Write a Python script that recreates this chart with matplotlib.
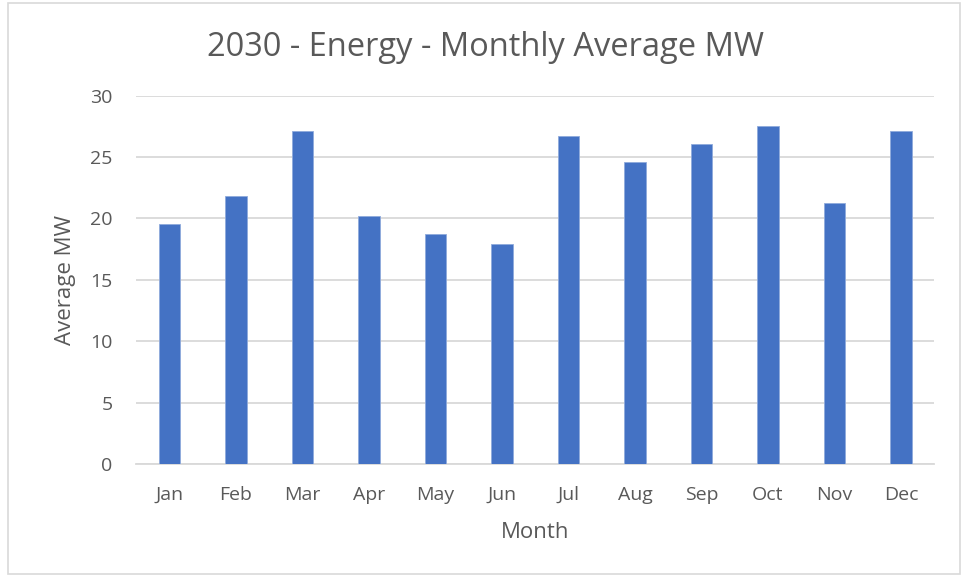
import matplotlib.pyplot as plt
from matplotlib.patches import Rectangle

months = ["Jan", "Feb", "Mar", "Apr", "May", "Jun",
          "Jul", "Aug", "Sep", "Oct", "Nov", "Dec"]
avg_mw = [19.55, 21.8, 27.1, 20.2, 18.75, 17.95,
          26.7, 24.6, 26.05, 27.5, 21.3, 27.1]

plt.rcParams["font.family"] = ["Open Sans", "DejaVu Sans"]
text_color = "#595959"

fig = plt.figure(figsize=(9.66, 5.77), dpi=100)
ax = fig.add_axes([0.141, 0.196, 0.826, 0.638])

x = range(len(months))
ax.bar(x, avg_mw, width=0.32, color="#4472C4", edgecolor="#8faadc",
       linewidth=0.6, zorder=3)

ax.set_xlim(-0.5, len(months) - 0.5)
ax.set_ylim(0, 30)
ax.set_yticks(range(0, 31, 5))
ax.set_xticks(list(x))
ax.set_xticklabels(months)
ax.tick_params(axis="both", length=0, colors=text_color, labelsize=14)
ax.tick_params(axis="x", pad=16)
ax.tick_params(axis="y", pad=17)

ax.grid(axis="y", color="#d9d9d9", linewidth=1.3, zorder=0)
for side in ["top", "right", "left"]:
    ax.spines[side].set_visible(False)
ax.spines["bottom"].set_color("#d9d9d9")
ax.spines["bottom"].set_linewidth(1.3)

ax.set_ylabel("Average MW", fontsize=16, color=text_color, labelpad=10)
ax.set_xlabel("Month", fontsize=16, color=text_color, labelpad=13)
fig.text(0.503, 0.918, "2030 - Energy - Monthly Average MW", ha="center",
         va="center", fontsize=23.5, color=text_color)

# chart border
fig.patches.append(Rectangle((8 / 966, 3 / 577), 952 / 966, 571 / 577,
                             transform=fig.transFigure, fill=False,
                             edgecolor="#d9d9d9", linewidth=1.2))

fig.savefig("out.png", dpi=100, facecolor="white")
